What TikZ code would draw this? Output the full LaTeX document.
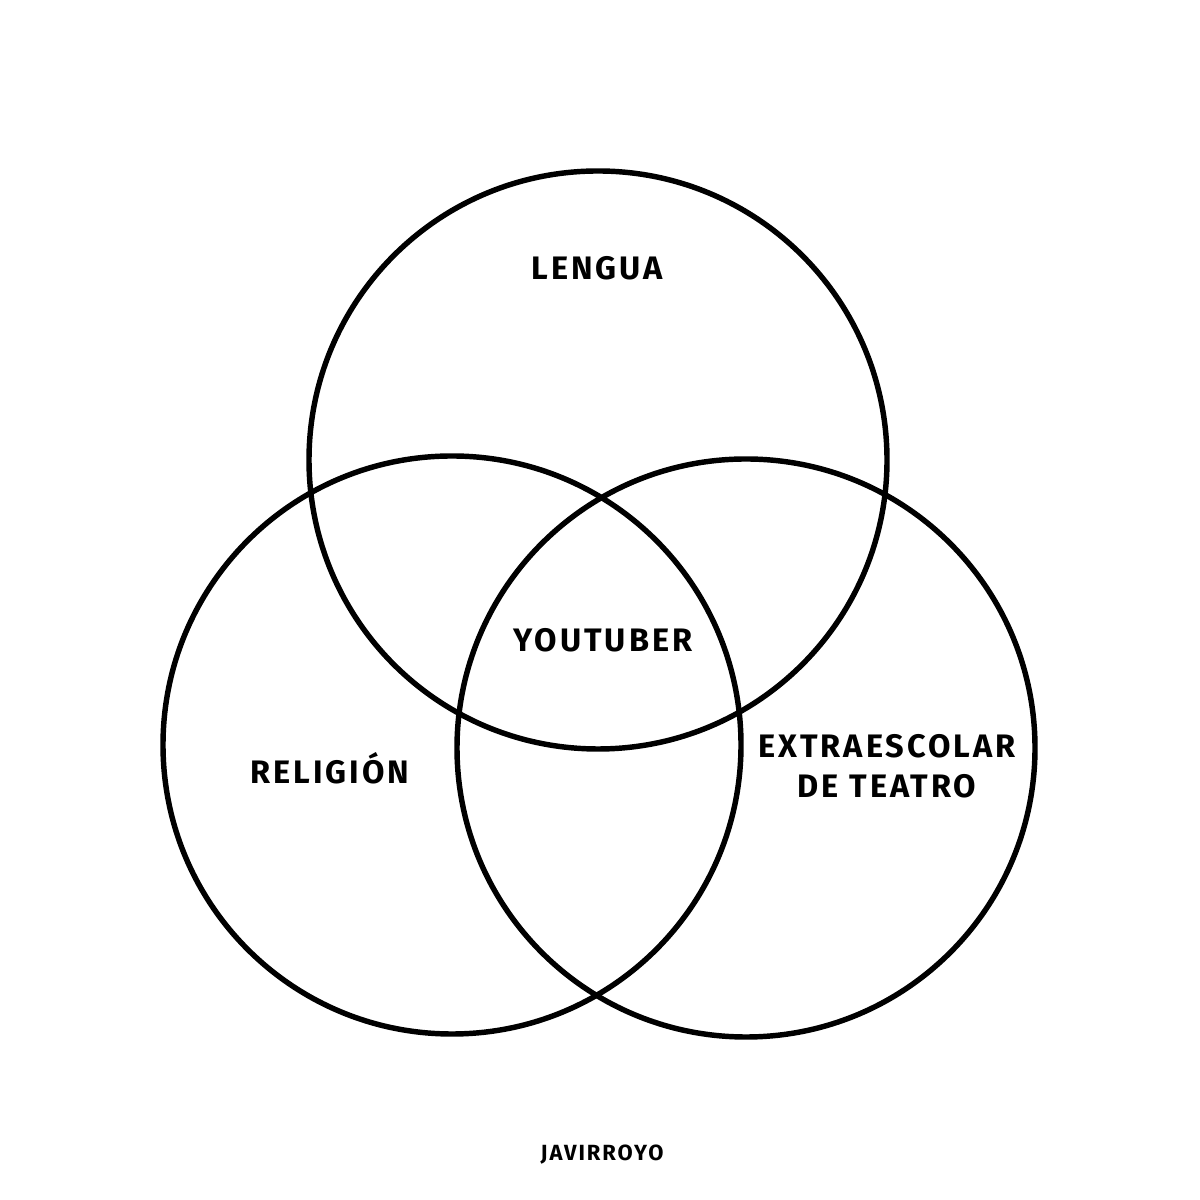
\documentclass[tikz,border=0pt]{standalone}
\usepackage{fontspec}
\setmainfont{Fira Sans}
\newfontfamily\handfont[LetterSpace=9]{Fira Sans Bold}
\begin{document}
\begin{tikzpicture}
\tikzset{
  setcircle/.style={draw=black, line width=3.1pt},
  lab/.style={font=\handfont\fontsize{18.5}{23}\selectfont, inner sep=0pt, align=center},
  sig/.style={font=\handfont\fontsize{12.5}{14}\selectfont, inner sep=0pt}
}
\useasboundingbox (0,0) rectangle (24,24);
\fill[white] (0,0) rectangle (24,24);
\draw[setcircle] (11.96,14.8) circle (5.78);
\draw[setcircle] (9.04,9.1) circle (5.78);
\draw[setcircle] (14.92,9.04) circle (5.78);
\node[lab] (lengua) at (11.94,18.64) {LENGUA};
\node[lab] (youtuber) at (12.06,11.2) {YOUTUBER};
\node[lab] (religion) at (6.6,8.64) {RELIGIÓN};
\node[lab] (teatro) at (17.74,8.68) {EXTRAESCOLAR\\DE TEATRO};
\node[sig] (firma) at (12.04,0.9) {JAVIRROYO};
\end{tikzpicture}
\end{document}
